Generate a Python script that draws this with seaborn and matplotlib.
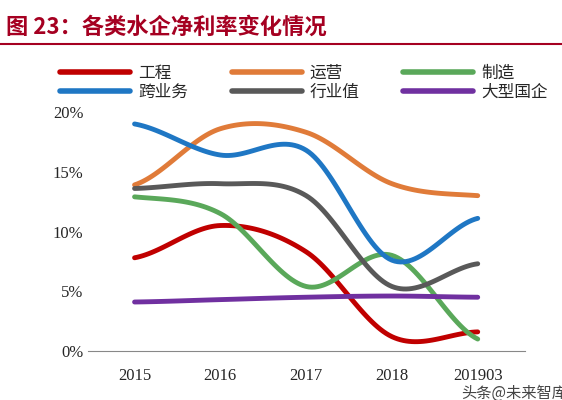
import numpy as np
import pandas as pd
import seaborn as sns
import matplotlib.pyplot as plt

years = ["2015", "2016", "2017", "2018", "201903"]
gongcheng = [7.8, 10.5, 8.3, 1.2, 1.6]
yunying = [13.9, 18.6, 18.3, 14.0, 13.0]
zhizao = [12.9, 11.5, 5.4, 8.0, 1.0]
kuayewu = [19.0, 16.4, 16.8, 7.6, 11.1]
hangye = [13.6, 14.0, 13.0, 5.4, 7.3]
guoqi = [4.1, 4.3, 4.5, 4.6, 4.5]

names = ["工程", "运营", "制造", "跨业务", "行业值", "大型国企"]
series = [gongcheng, yunying, zhizao, kuayewu, hangye, guoqi]
colors = ["#c00000", "#e07b39", "#5aa85a", "#1f77c4", "#595959", "#7030a0"]


def smooth(y, n=30):
    # catmull-rom through the points, for drawing only
    y = np.asarray(y, float)
    p = np.concatenate([[y[0]], y, [y[-1]]])
    xs, ys = [], []
    for i in range(len(y) - 1):
        t = np.linspace(0, 1, n, endpoint=False)
        p0, p1, p2, p3 = p[i], p[i + 1], p[i + 2], p[i + 3]
        v = 0.5 * (2 * p1 + (-p0 + p2) * t + (2 * p0 - 5 * p1 + 4 * p2 - p3) * t ** 2
                   + (-p0 + 3 * p1 - 3 * p2 + p3) * t ** 3)
        xs.extend(i + t)
        ys.extend(v)
    xs.append(len(y) - 1)
    ys.append(y[-1])
    return np.array(xs), np.array(ys)


rows = []
for name, vals in zip(names, series):
    xs, ys = smooth(vals)
    rows.append(pd.DataFrame({"x": xs, "y": ys, "s": name}))
df = pd.concat(rows)

sns.set_style("white")
plt.rcParams["font.family"] = ["Noto Sans CJK SC", "DejaVu Sans"]

fig = plt.figure(figsize=(5.62, 4), dpi=100)
ax = fig.add_axes([0.157, 0.1225, 0.777, 0.5975])
sns.lineplot(data=df, x="x", y="y", hue="s", hue_order=names, palette=colors,
             linewidth=3.5, ax=ax, sort=False, estimator=None)

ax.set_xlim(-0.54, 4.55)
ax.set_ylim(0, 20)
ax.set_yticks([0, 5, 10, 15, 20])
ax.set_yticklabels([f"{v}%" for v in [0, 5, 10, 15, 20]], family="Liberation Serif", fontsize=12)
ax.set_xticks(range(5))
ax.set_xticklabels(years, family="Liberation Serif", fontsize=12)
ax.set_xticks(np.arange(-0.5, 5, 1), minor=True)
ax.tick_params(axis="x", which="minor", length=5, color="#888888", direction="out")
ax.tick_params(axis="x", which="major", length=0, pad=12)
ax.tick_params(axis="y", length=0)
ax.set_xlabel("")
ax.set_ylabel("")
for s in ["top", "right", "left"]:
    ax.spines[s].set_visible(False)
ax.spines["bottom"].set_color("#888888")

handles, labels = ax.get_legend_handles_labels()
order = [0, 3, 1, 4, 2, 5]
ax.legend([handles[i] for i in order], [labels[i] for i in order],
          loc="lower left", bbox_to_anchor=(-0.08, 1.02), ncol=3, frameon=False,
          fontsize=12, handlelength=4.2, handletextpad=0.5, columnspacing=2.6,
          labelspacing=0.1, borderaxespad=0)
for line in ax.get_legend().get_lines():
    line.set_linewidth(4)

fig.text(0.01, 0.915, "图 23：各类水企净利率变化情况", color="#a50021",
         fontsize=16, fontweight="bold")
fig.add_artist(plt.Line2D([0.0, 1.0], [0.89, 0.89], color="#a50021", linewidth=1.5))
fig.text(0.82, 0.005, "头条@未来智库", color="#444444", fontsize=11)

plt.savefig("out.png", dpi=100)
